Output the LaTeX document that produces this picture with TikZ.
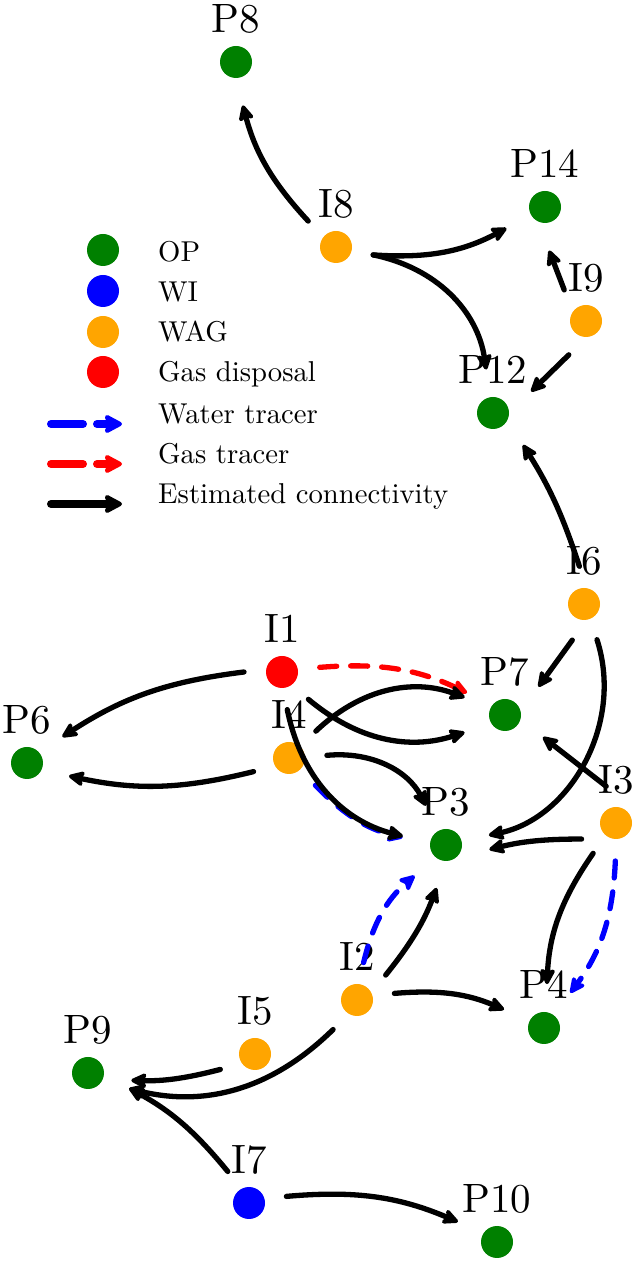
\documentclass[tikz,border=0pt]{standalone}
\usepackage{fontspec}
\setmainfont{lmroman10-regular.otf}
\usetikzlibrary{arrows.meta}
\definecolor{opgreen}{RGB}{0,128,0}
\definecolor{wagorange}{RGB}{255,165,0}
\definecolor{wiblue}{RGB}{0,0,255}
\definecolor{gasred}{RGB}{255,0,0}
\begin{document}
\begin{tikzpicture}[x=1pt,y=1pt,
  well/.style={circle, fill=#1, minimum size=32pt, inner sep=0pt, outer sep=22pt},
  lab/.style={anchor=base, inner sep=0pt, font=\fontsize{41pt}{41pt}\selectfont},
  legtext/.style={anchor=base west, inner sep=0pt, font=\fontsize{28.7pt}{30pt}\selectfont},
  conn/.style={line width=5.3pt, line cap=round, shorten >=6pt, -{Stealth[length=19pt,width=18pt,inset=4pt,round]}},
  est/.style={conn, black},
  wtr/.style={conn, wiblue, dash pattern=on 17pt off 14pt},
  gtr/.style={conn, gasred, dash pattern=on 17pt off 14pt},
  legarrow/.style={line width=8pt, line cap=round, -{Stealth[length=21pt,width=22pt,inset=4pt,round]}},
]
\useasboundingbox (0,0) rectangle (637,1263);

% wells
\node[well=opgreen]    (P8)  at (236,1201) {};
\node[well=wagorange]  (I8)  at (336,1016) {};
\node[well=opgreen]    (P14) at (545,1056) {};
\node[well=wagorange]  (I9)  at (586,942) {};
\node[well=opgreen]    (P12) at (493,850) {};
\node[well=wagorange]  (I6)  at (584,659) {};
\node[well=gasred]     (I1)  at (282,591) {};
\node[well=opgreen]    (P7)  at (505,548) {};
\node[well=opgreen]    (P6)  at (27,500) {};
\node[well=wagorange]  (I4)  at (289,505) {};
\node[well=wagorange]  (I3)  at (616,440) {};
\node[well=opgreen]    (P3)  at (446,418) {};
\node[well=wagorange]  (I2)  at (357,263) {};
\node[well=opgreen]    (P4)  at (544,235) {};
\node[well=wagorange]  (I5)  at (255,209) {};
\node[well=opgreen]    (P9)  at (88,190) {};
\node[well=wiblue]     (I7)  at (249,60) {};
\node[well=opgreen]    (P10) at (497,21) {};

% labels
\node[lab] (lP8)  at (236,1230) {P8};
\node[lab] (lI8)  at (336,1045) {I8};
\node[lab] (lP14) at (545,1085) {P14};
\node[lab] (lI9)  at (586,971) {I9};
\node[lab] (lP12) at (493,879) {P12};
\node[lab] (lI6)  at (584,688) {I6};
\node[lab] (lI1)  at (282,620) {I1};
\node[lab] (lP7)  at (505,577) {P7};
\node[lab] (lP6)  at (27,529) {P6};
\node[lab] (lI4)  at (289,534) {I4};
\node[lab] (lI3)  at (616,469) {I3};
\node[lab] (lP3)  at (446,447) {P3};
\node[lab] (lI2)  at (357,292) {I2};
\node[lab] (lP4)  at (544,264) {P4};
\node[lab] (lI5)  at (255,238) {I5};
\node[lab] (lP9)  at (88,219) {P9};
\node[lab] (lI7)  at (249,89) {I7};
\node[lab] (lP10) at (497,50) {P10};

% tracers
\draw[gtr] (I1.7.7) to[bend left=15] (P7.149.9);
\draw[wtr] (I4.-46.1) to[bend right=16] (P3.171);
\draw[wtr] (I3.-91.5) to[bend left=17] (P4.53.6);
\draw[wtr] (I2.80.8) to[bend left=18] (P3.-135.9);

% estimated connectivity
\draw[est] (I8.137.1) to[bend left=14] (P8.-82.2);
\draw[est] (I8.-12.2) to[bend right=16] (P14.209.6);
\draw[est] (I8.-12.2) to[bend left=35] (P12.99.2);
\draw[est] (I9.125.4) to (P14.-87.5);
\draw[est] (I9.-117.9) to (P12.27.1);
\draw[est] (I6.97.3) to[bend right=7] (P12.-45.9);
\draw[est] (I6.-108.4) to (P7.38.5);
\draw[est] (I6.-70.1) to[bend left=48] (P3.13.1);
\draw[est] (I1.180) to[bend right=13] (P6.37.6);
\draw[est] (I4.201.3) to[bend left=13] (P6.-18.9);
\draw[est] (I1.-46.1) to[bend right=29] (P7.204.2);
\draw[est] (I4.45) to[bend left=32] (P7.156.4);
\draw[est] (I1.-82.1) to[bend right=32] (P3.169.5);
\draw[est] (I4.4.5) to[bend left=34] (P3.117.8);
\draw[est] (I3.105.9) to (P7.-29.4);
\draw[est] (I3.-155.4) to[bend right=7] (P3.-9.2);
\draw[est] (I3.-127.7) to[bend right=16] (P4.86.1);
\draw[est] (I2.41.9) to[bend right=9] (P3.-101.6);
\draw[est] (I2.10.4) to[bend left=14] (P4.155.2);
\draw[est] (I2.-129.8) to[bend left=29] (P9.-22);
\draw[est] (I5.-156.8) to[bend left=8] (P9.-11.6);
\draw[est] (I7.124.1) to[bend right=11] (P9.-19.9);
\draw[est] (I7.10.4) to[bend left=14] (P10.152.9);

% legend
\node[well=opgreen]   (legOP)  at (103,1013) {};
\node[well=wiblue]    (legWI)  at (103,972) {};
\node[well=wagorange] (legWAG) at (103,931) {};
\node[well=gasred]    (legGD)  at (103,891) {};
\node[legtext] (tOP)  at (158,1001) {OP};
\node[legtext] (tWI)  at (158,961) {WI};
\node[legtext] (tWAG) at (158,921) {WAG};
\node[legtext] (tGD)  at (158,881) {Gas disposal};
\node[legtext] (tWT)  at (158,839) {Water tracer};
\node[legtext] (tGT)  at (158,799) {Gas tracer};
\node[legtext] (tEC)  at (158,759) {Estimated connectivity};
\coordinate (wtS) at (51,839);  \coordinate (wtE) at (122,839);
\coordinate (gtS) at (51,799);  \coordinate (gtE) at (122,799);
\coordinate (ecS) at (51,759);  \coordinate (ecE) at (122,759);
\draw[legarrow, wiblue, dash pattern=on 32pt off 14pt] (wtS) -- (wtE);
\draw[legarrow, gasred, dash pattern=on 32pt off 14pt] (gtS) -- (gtE);
\draw[legarrow, black] (ecS) -- (ecE);
\end{tikzpicture}
\end{document}
